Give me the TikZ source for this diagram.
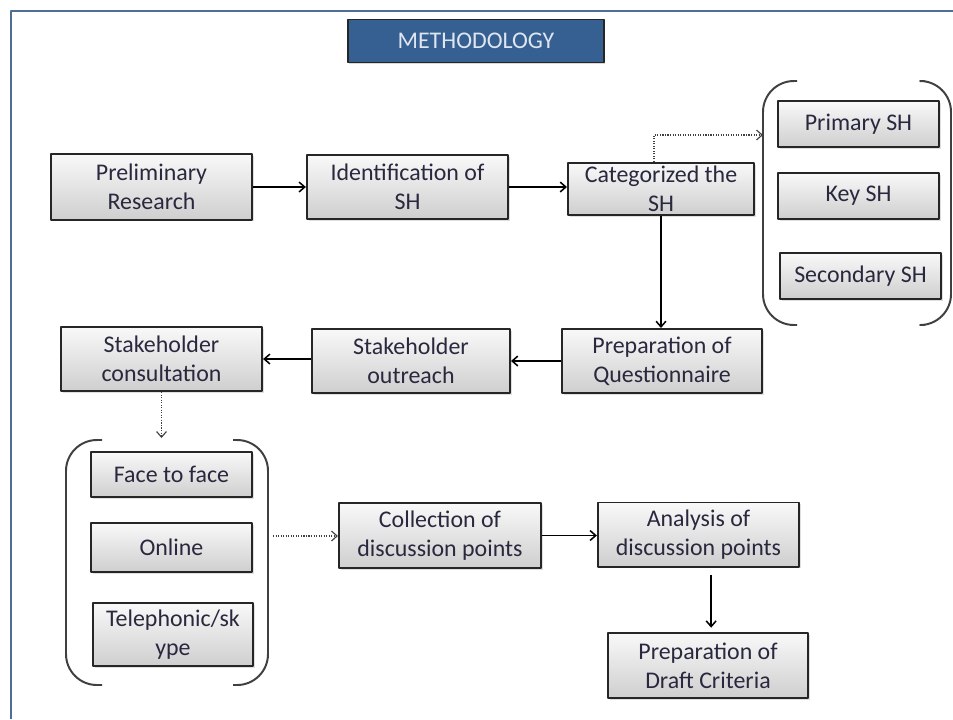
\documentclass[tikz,border=0pt]{standalone}
\usepackage{fontspec}
\setmainfont{Carlito}
\usetikzlibrary{arrows.meta,shadows}
\definecolor{framecol}{RGB}{79,109,154}
\definecolor{titleblue}{RGB}{54,96,146}
\definecolor{titletxt}{RGB}{222,230,240}
\definecolor{txtcol}{RGB}{40,40,62}
\begin{document}
\begin{tikzpicture}[x=0.025cm,y=-0.025cm,line join=round,>={Straight Barb[length=4pt,width=7pt]}]
	\tikzset{every node/.style={font=\fontsize{17}{20.5}\selectfont},
		box/.style={draw=black!85,line width=1.4pt,top color=gray!5,bottom color=gray!38,text=txtcol,align=center,inner sep=0pt,
			drop shadow={shadow xshift=1.2pt,shadow yshift=-1.2pt,opacity=0.25}},
		flow/.style={->,line width=1.1pt},
		dots/.style={->,densely dotted,line width=0.8pt,black!75},
		brk/.style={line width=1.4pt,black!75,rounded corners=22pt}}
	\useasboundingbox (0,0) rectangle (953,719);
	% frame
	\draw[framecol,line width=1.5pt] (11,719)--(11,11)--(953,11);
	\node[draw=black!85,line width=1.2pt,fill=titleblue,text=titletxt,minimum width=6.4cm,minimum height=1.08cm,
		drop shadow={shadow xshift=1pt,shadow yshift=-1pt,opacity=0.3}] (title) at (476,41) {METHODOLOGY};
	% first row
	\node[box,minimum width=5.03cm,minimum height=1.63cm] (prelim) at (151.5,187) {Preliminary\\Research};
	\node[box,minimum width=5.03cm,minimum height=1.6cm] (ident) at (407.5,187) {Identification of\\SH};
	\node[box,minimum width=4.65cm,minimum height=1.3cm] (categ) at (661,189) {Categorized the\\SH};
	% stakeholder groups
	\node[box,minimum width=4.03cm,minimum height=1.15cm] (primary) at (858.5,124) {Primary SH};
	\node[box,minimum width=4.03cm,minimum height=1.15cm] (key) at (858.5,196) {Key SH};
	\node[box,minimum width=4.03cm,minimum height=1.15cm] (secondary) at (860.5,276) {Secondary SH};
	\draw[brk] (797,81)--(763,81)--(763,325)--(797,325);
	\draw[brk] (925,81)--(951,81)--(951,325)--(925,325);
	\coordinate (shin) at (763,135);
	% second row
	\node[box,minimum width=5cm,minimum height=1.6cm] (prepq) at (662,361) {Preparation of\\Questionnaire};
	\node[box,minimum width=4.95cm,minimum height=1.6cm] (outreach) at (411,361) {Stakeholder\\outreach};
	\node[box,minimum width=5.03cm,minimum height=1.6cm] (consult) at (161.5,359) {Stakeholder\\consultation};
	% consultation modes
	\node[box,minimum width=4.03cm,minimum height=1.13cm] (face) at (171.5,474.5) {Face to face};
	\node[box,minimum width=4.03cm,minimum height=1.23cm] (online) at (171.5,547.5) {Online};
	\node[box,minimum width=4cm,minimum height=1.58cm] (tele) at (173,634.5) {Telephonic/sk\\ype};
	\draw[brk] (102,440)--(66,440)--(66,685)--(102,685);
	\draw[brk] (233,440)--(268,440)--(268,685)--(233,685);
	\coordinate (modetop) at (161.5,438);
	\coordinate (modeout) at (273,536);
	% last rows
	\node[box,minimum width=5.05cm,minimum height=1.63cm] (collect) at (440,535.5) {Collection of\\discussion points};
	\node[box,minimum width=5.03cm,minimum height=1.6cm] (analysis) at (698.5,534.5) {Analysis of\\discussion points};
	\node[box,minimum width=5cm,minimum height=1.63cm] (draft) at (708,665.5) {Preparation of\\Draft Criteria};
	% connectors
	\draw[flow] (prelim.east)--(ident.west);
	\draw[flow] (ident.east)--(ident.east -| categ.west);
	\draw[dots] ([xshift=-5pt]categ.north) |- (shin);
	\draw[flow] (categ.south)--(categ.south |- prepq.north);
	\draw[flow] (prepq.west)--(prepq.west -| outreach.east);
	\draw[flow] (consult.east -| outreach.west)--(consult.east);
	\draw[dots] (consult.south)--(modetop);
	\draw[dots] (modeout)--(modeout -| collect.west);
	\draw[flow] (collect.east)--(collect.east -| analysis.west);
	\draw[flow,shorten <=5pt,shorten >=3pt] ([xshift=9pt]analysis.south)--([xshift=9pt]analysis.south |- draft.north);
\end{tikzpicture}
\end{document}
